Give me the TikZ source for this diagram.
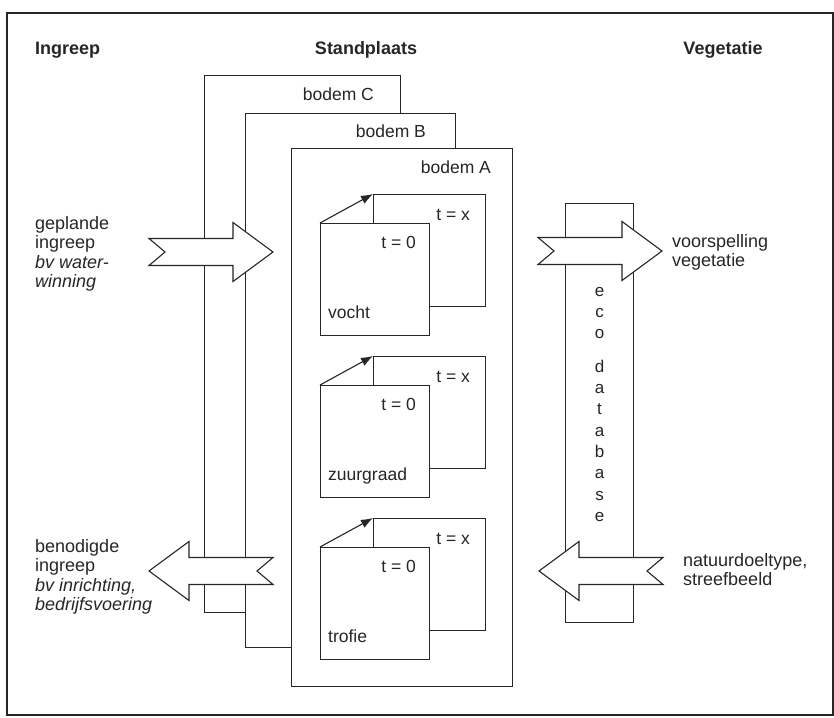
\documentclass[tikz,border=0pt]{standalone}
\usepackage{fontspec}
\setmainfont{Liberation Sans}
\usetikzlibrary{positioning,calc,arrows.meta}
\colorlet{ink}{black!85}

\begin{document}
\begin{tikzpicture}[x=1pt,y=-1pt]
  \tikzset{
    bodembox/.style={draw=ink, fill=white, line width=1.1pt, anchor=north west, inner sep=0pt},
    sheet/.style={bodembox, minimum width=112pt, minimum height=112pt},
    frontsheet/.style={sheet, minimum width=109pt},
    timeline/.style={-{Latex[length=12pt,width=9pt]}, ink, line width=1.1pt},
    head/.style={font=\fontsize{18}{20}\selectfont\bfseries, text=ink, inner sep=0pt},
    txt/.style={font=\fontsize{17.5}{19.5}\selectfont, text=ink, inner sep=0pt, align=left},
    side/.style={txt, font=\fontsize{18}{19.5}\selectfont, anchor=north west},
    fat arrow/.pic={
      \draw[draw=ink, fill=white, line width=1.1pt]
        (0,-13.5) -- (84,-13.5) -- (84,-29.5) -- (124,0) -- (84,29.5) -- (84,13.5) -- (0,13.5) -- (16,0) -- cycle;
    }
  }
  \useasboundingbox (0,0) rectangle (834,717);
  \draw[ink, line width=1.3pt] (7,13) rectangle (833,715);

  \node[head, anchor=west] (ingreep) at (35,50) {Ingreep};
  \node[head] (standplaats) at (366,50) {Standplaats};
  \node[head] (vegetatie) at (723,50) {Vegetatie};

  % standplaats: three soil layers
  \node[bodembox, minimum width=196pt, minimum height=537pt] (bC) at (204,75) {};
  \node[txt, below left=13pt and 27pt of bC.north east] {bodem C};
  \node[bodembox, minimum width=210pt, minimum height=534pt] (bB) at (245,113) {};
  \node[txt, below left=12pt and 30pt of bB.north east] {bodem B};
  \node[bodembox, minimum width=221pt, minimum height=538pt] (bA) at (291,148) {};
  \node[txt, below left=13pt and 22pt of bA.north east] {bodem A};

  \node[sheet] (x1) at (373,194) {};
  \node[frontsheet] (o1) at (320,223) {};
  \draw[timeline] (o1.north west) -- (x1.north west);
  \node[txt, below left=15pt and 16pt of x1.north east] {t = x};
  \node[txt, below left=13pt and 14pt of o1.north east] {t = 0};
  \node[txt, above right=18pt and 8pt of o1.south west, anchor=base west] {vocht};

  \node[sheet] (x2) at (373,356) {};
  \node[frontsheet] (o2) at (320,385) {};
  \draw[timeline] (o2.north west) -- (x2.north west);
  \node[txt, below left=15pt and 16pt of x2.north east] {t = x};
  \node[txt, below left=13pt and 14pt of o2.north east] {t = 0};
  \node[txt, above right=18pt and 8pt of o2.south west, anchor=base west] {zuurgraad};

  \node[sheet] (x3) at (373,518) {};
  \node[frontsheet] (o3) at (320,547) {};
  \draw[timeline] (o3.north west) -- (x3.north west);
  \node[txt, below left=15pt and 16pt of x3.north east] {t = x};
  \node[txt, below left=13pt and 14pt of o3.north east] {t = 0};
  \node[txt, above right=18pt and 8pt of o3.south west, anchor=base west] {trofie};

  % vegetatie
  \node[bodembox, minimum width=68pt, minimum height=419pt] (eco) at (565,203) {};
  \node[txt, align=center, font=\fontsize{17}{21.3}\selectfont, below=84pt of eco.north]
    {e\\c\\o\\[12pt]d\\a\\t\\a\\b\\a\\s\\e};

  \pic (plan) at (149,252) {fat arrow};
  \pic (pred) at (538,251) {fat arrow};
  \pic[xscale=-1] (need) at (273,571) {fat arrow};
  \pic[xscale=-1] (goal) at (663,571) {fat arrow};

  \node[side] (plantxt) at (35,216) {geplande\\ingreep\\\textit{bv water-}\\\textit{winning}};
  \node[side] (needtxt) at (35,539) {benodigde\\ingreep\\\textit{bv inrichting,}\\\textit{bedrijfsvoering}};
  \node[side] (predtxt) at (672,234) {voorspelling\\vegetatie};
  \node[side] (goaltxt) at (683,553) {natuurdoeltype,\\streefbeeld};
\end{tikzpicture}
\end{document}
